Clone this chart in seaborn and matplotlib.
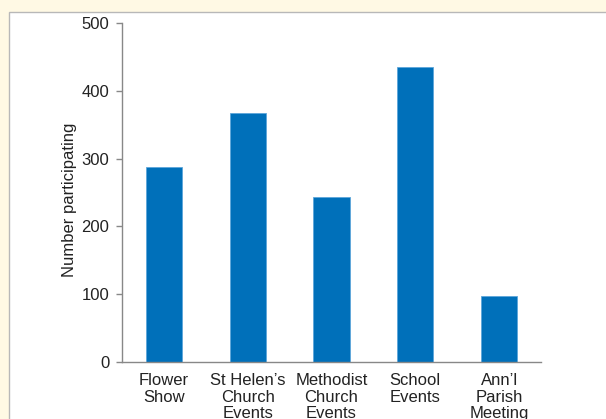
import numpy as np
import matplotlib
matplotlib.use("Agg")
import matplotlib.pyplot as plt
from matplotlib.patches import Rectangle
from matplotlib.ticker import FixedLocator
import pandas as pd
import seaborn as sns

# Data
categories = ["Flower\nShow", "St Helen\u2019s\nChurch\nEvents", "Methodist\nChurch\nEvents",
              "School\nEvents", "Ann\u2019l\nParish\nMeeting"]
participants = [287, 367, 243, 435, 97]
yticks = [0, 100, 200, 300, 400, 500]

df = pd.DataFrame({"event": categories, "n": participants})

sns.set_style("white")
plt.rcParams["font.family"] = ["Liberation Sans", "DejaVu Sans"]
plt.rcParams["font.size"] = 12

fig = plt.figure(figsize=(6.06, 4.19), dpi=100)
fig.patch.set_facecolor("#FFF9E4")

# white panel with a thin grey edge, behind the axes
panel = Rectangle((9 / 606, -0.05), 1.0, (419 - 12) / 419 + 0.05,
                  transform=fig.transFigure, facecolor="white",
                  edgecolor="#B8B8B8", linewidth=1.0, zorder=-10)
fig.add_artist(panel)

ax = fig.add_axes([122 / 606, (419 - 362) / 419, (541 - 122) / 606, (362 - 23) / 419])
ax.set_facecolor("none")
ax.set_zorder(5)

sns.barplot(data=df, x="event", y="n", color="#0070BA", width=0.43,
            saturation=1, ax=ax)
for p in ax.patches:
    p.set_edgecolor("#5DA6DA")
    p.set_linewidth(0.6)

ax.set_xlim(-0.5, 4.5)
ax.set_ylim(0, 500)
ax.set_yticks(yticks)
ax.set_xlabel("")
ax.set_ylabel("Number participating", fontsize=12, color="#222222")
ax.yaxis.set_label_coords(-0.107, 0.478)

ax.xaxis.set_minor_locator(FixedLocator(np.arange(-0.5, 5, 1.0)))
ax.tick_params(axis="x", which="major", length=0, pad=8, labelsize=12, labelcolor="#222222")
ax.tick_params(axis="x", which="minor", length=7.5, width=1, color="#888888", direction="out")
ax.tick_params(axis="y", length=4, width=1, color="#888888", pad=5, labelsize=12,
               labelcolor="#222222", left=True)
for lbl in ax.get_xticklabels():
    lbl.set_verticalalignment("top")
    lbl.set_linespacing(1.12)

sns.despine(ax=ax)
for s in ("left", "bottom"):
    ax.spines[s].set_color("#888888")
    ax.spines[s].set_linewidth(1)

fig.savefig("out.png", dpi=100, facecolor=fig.get_facecolor())
